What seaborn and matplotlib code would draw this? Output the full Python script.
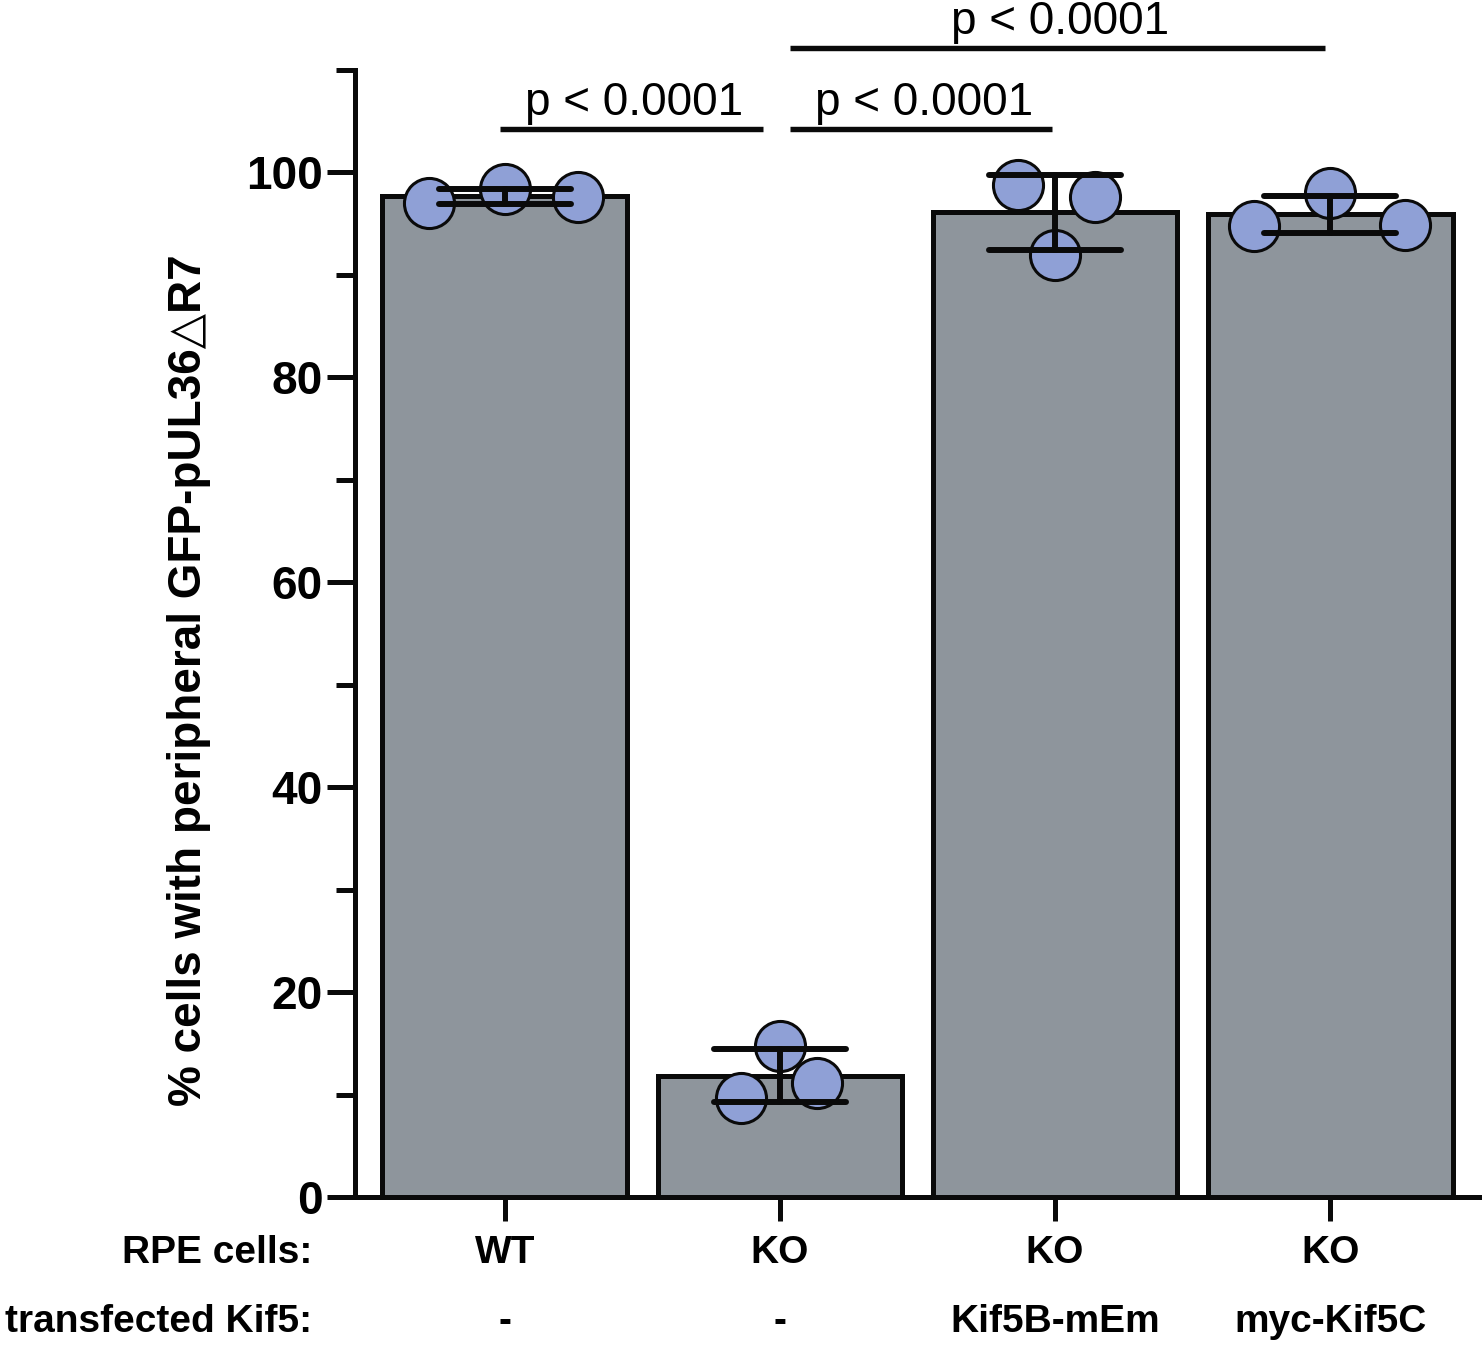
import matplotlib
matplotlib.use("Agg")
import matplotlib.pyplot as plt
import matplotlib.transforms as mtransforms
from matplotlib.ticker import MultipleLocator
import numpy as np
import pandas as pd
import seaborn as sns

# data
groups = ["WT", "KO", "KO + Kif5B-mEm", "KO + myc-Kif5C"]
rpe_cells = ["WT", "KO", "KO", "KO"]
transfected = ["-", "-", "Kif5B-mEm", "myc-Kif5C"]
wt_vals = [97.0, 98.4, 97.6]
ko_vals = [9.7, 14.7, 11.1]
kif5b_vals = [98.8, 91.9, 97.6]
kif5c_vals = [94.8, 98.0, 94.9]
# horizontal spread of the replicate dots (fraction of category spacing)
dot_offsets = [[-0.277, 0.0, 0.265],
               [-0.142, 0.0, 0.135],
               [-0.135, 0.0, 0.145],
               [-0.276, 0.0, 0.273]]
p_labels = ["p < 0.0001", "p < 0.0001", "p < 0.0001"]

rows = []
for gi, vals in enumerate([wt_vals, ko_vals, kif5b_vals, kif5c_vals]):
    for k, v in enumerate(vals):
        rows.append({"group": groups[gi], "value": v,
                     "xpos": gi + dot_offsets[gi][k]})
df = pd.DataFrame(rows)

sns.set_style("ticks")
plt.rcParams["font.family"] = ["Liberation Sans", "DejaVu Sans"]
plt.rcParams["text.color"] = "black"
plt.rcParams["axes.labelcolor"] = "black"
plt.rcParams["xtick.labelcolor"] = "black"
plt.rcParams["ytick.labelcolor"] = "black"

fig = plt.figure(figsize=(14.82, 13.46), dpi=100)
ax = fig.add_axes([0.2395, 0.1107, 0.7592, 0.8373])

bar_color = "#8E959C"
dot_color = "#8FA0D6"
ink = "#0a0a0a"

sns.barplot(data=df, x="group", y="value", order=groups, errorbar="sd",
            color=bar_color, saturation=1, width=0.89,
            edgecolor=ink, linewidth=3.6, capsize=0.48,
            err_kws={"color": ink, "linewidth": 4.3,
                     "solid_capstyle": "round", "zorder": 6},
            ax=ax)
sns.scatterplot(data=df, x="xpos", y="value", s=1300, color=dot_color,
                edgecolor=ink, linewidth=2.2, zorder=5, legend=False, ax=ax)

ax.set_xlim(-0.545, 3.545)
ax.set_ylim(0, 110)
ax.yaxis.set_major_locator(MultipleLocator(20))
ax.yaxis.set_minor_locator(MultipleLocator(10))
ax.set_xticks(range(len(groups)))
ax.set_xticklabels([])
ax.set_xlabel("")

for s in ["top", "right"]:
    ax.spines[s].set_visible(False)
for s in ["left", "bottom"]:
    ax.spines[s].set_linewidth(3.6)
    ax.spines[s].set_color(ink)

ax.tick_params(axis="y", which="major", length=20, width=3.6, pad=3,
               labelsize=33, color=ink, labelcolor="black")
ax.tick_params(axis="y", which="minor", length=14, width=3.6, color=ink)
ax.tick_params(axis="x", which="major", length=17, width=3.6, color=ink)
for lab in ax.get_yticklabels():
    lab.set_fontweight("bold")

ax.set_ylabel("% cells with peripheral GFP-pUL36\u25B3R7", fontsize=33,
              fontweight="bold", color="black")
ax.yaxis.set_label_coords(-0.128, 0.459)

# two-row category labels under the axis
trans = mtransforms.blended_transform_factory(ax.transData, ax.transAxes)
for i in range(len(groups)):
    ax.text(i, -0.05, rpe_cells[i], transform=trans, ha="center", va="center",
            fontsize=28, fontweight="bold", color="black")
    ax.text(i, -0.111, transfected[i], transform=trans, ha="center", va="center",
            fontsize=28, fontweight="bold", color="black")
ax.text(-0.038, -0.05, "RPE cells:", transform=ax.transAxes, ha="right",
        va="center", fontsize=28, fontweight="bold", color="black")
ax.text(-0.038, -0.111, "transfected Kif5:", transform=ax.transAxes, ha="right",
        va="center", fontsize=28, fontweight="bold", color="black")

# significance lines
line_y = [104.2, 104.2, 112.1]
line_x = [(-0.018, 0.938), (1.036, 1.989), (1.036, 2.98)]
for (x0, x1), y, lab in zip(line_x, line_y, p_labels):
    ax.plot([x0, x1], [y, y], color=ink, linewidth=3.9, clip_on=False,
            solid_capstyle="butt")
    ax.text((x0 + x1) / 2 + 0.01, y + 0.4, lab, ha="center", va="bottom",
            fontsize=33, clip_on=False, color="black")

fig.savefig("out.png", dpi=100)
